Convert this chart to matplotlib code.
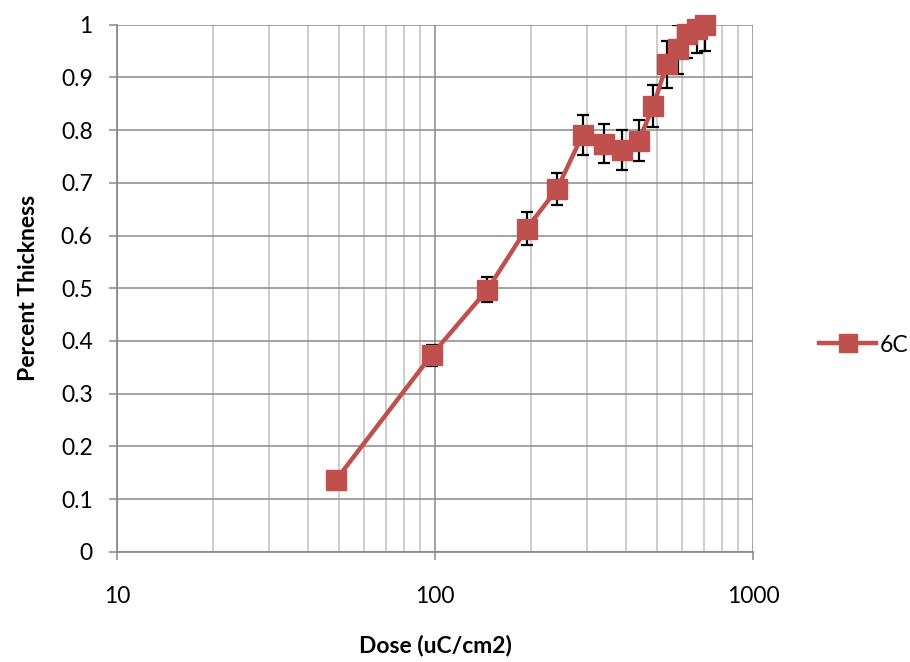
import matplotlib
matplotlib.use("Agg")
import matplotlib.pyplot as plt
from matplotlib.ticker import FixedLocator, NullFormatter, LogLocator

plt.rcParams['font.family'] = ['Lato', 'DejaVu Sans']

# Data
dose = [48.8, 97.5, 146, 194, 242, 291, 339, 388, 437, 486, 535, 581, 622, 665, 707]
thickness = [0.136, 0.373, 0.497, 0.613, 0.688, 0.791, 0.774, 0.763, 0.780,
             0.845, 0.925, 0.953, 0.983, 0.992, 1.0]
errors = [0.008, 0.02, 0.024, 0.031, 0.031, 0.038, 0.037, 0.038, 0.039,
          0.04, 0.045, 0.047, 0.047, 0.046, 0.05]
series_name = "6C"
y_ticks = [0, 0.1, 0.2, 0.3, 0.4, 0.5, 0.6, 0.7, 0.8, 0.9, 1.0]
y_tick_labels = ["0", "0.1", "0.2", "0.3", "0.4", "0.5", "0.6", "0.7", "0.8", "0.9", "1"]
x_ticks = [10, 100, 1000]
x_tick_labels = ["10", "100", "1000"]

W, H = 910, 662
fig = plt.figure(figsize=(W / 100, H / 100), dpi=100)
ax = fig.add_axes([117 / W, 1 - 551.7 / H, (753 - 117) / W, (551.7 - 24.7) / H])

red = "#C0504D"
major_c = "#8a8a8a"
minor_c = "#c0c0c0"

ax.set_xscale("log")
ax.set_xlim(10, 1000)
ax.set_ylim(0, 1)

ax.xaxis.set_major_locator(FixedLocator(x_ticks))
ax.set_xticklabels(x_tick_labels)
ax.xaxis.set_minor_locator(LogLocator(base=10, subs=range(2, 10)))
ax.xaxis.set_minor_formatter(NullFormatter())
ax.set_yticks(y_ticks)
ax.set_yticklabels(y_tick_labels)

ax.grid(True, which="major", color=major_c, linewidth=1.1, zorder=0)
ax.grid(True, which="minor", axis="x", color=minor_c, linewidth=1.1, zorder=0)
ax.set_axisbelow(True)

for s in ["top", "right"]:
    ax.spines[s].set_visible(False)
for s in ["left", "bottom"]:
    ax.spines[s].set_color(major_c)
    ax.spines[s].set_linewidth(1.3)

ax.tick_params(axis="both", which="major", direction="out", length=5.5,
               width=1.1, color=major_c, labelsize=16.5, labelcolor="black")
ax.tick_params(axis="x", which="major", pad=19)
ax.tick_params(axis="y", which="major", pad=12)
ax.tick_params(axis="x", which="minor", length=0)

# error bars (clipped to plot area)
ax.errorbar(dose, thickness, yerr=errors, fmt="none", ecolor="black",
            elinewidth=1.6, capsize=4, capthick=1.6, zorder=2)

line, = ax.plot(dose, thickness, color=red, linewidth=3.2, marker="s",
                markersize=14, markerfacecolor=red, markeredgecolor=red,
                label=series_name, zorder=3, clip_on=False)

ax.set_xlabel("Dose (uC/cm2)", fontsize=16.5, fontweight="bold", labelpad=20)
ax.set_ylabel("Percent Thickness", fontsize=16.5, fontweight="bold", labelpad=16)

fig.legend(handles=[line], labels=[series_name], loc="center left",
           bbox_to_anchor=(819 / W, 1 - 345 / H), frameon=False,
           fontsize=16.5, handlelength=2.5, handletextpad=0.15,
           borderpad=0, borderaxespad=0, markerscale=0.9)

fig.savefig("out.png", dpi=100)
